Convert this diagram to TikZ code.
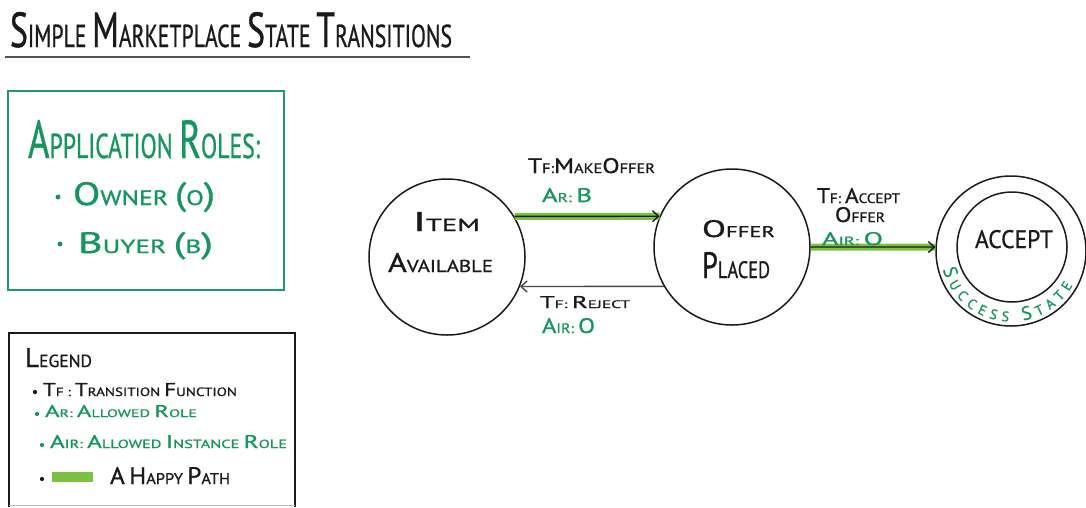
\documentclass[tikz,border=0pt]{standalone}
\usepackage{fontspec}
\setmainfont{PT Sans}[FakeBold=0.9]
\usepackage{graphicx}
\usetikzlibrary{arrows.meta,decorations.text,calc}
\definecolor{ink}{HTML}{1A1A1A}
\definecolor{rolegreen}{HTML}{17955E}
\definecolor{boxgreen}{HTML}{1E9A6A}
\definecolor{happygreen}{HTML}{7CC142}
% first letter of a word, set larger (hand-lettered small caps)
\newcommand\BG[1]{\scalebox{1.55}{#1}}
% text squeezed to a given width and cap height
\newcommand\fitt[3]{\resizebox{#1pt}{#2pt}{#3}}

\begin{document}
\begin{tikzpicture}[x=1pt,y=1pt,
  lbl/.style={anchor=base west, inner sep=0pt, outer sep=0pt, text=ink},
  glbl/.style={lbl, text=rolegreen},
  stnode/.style={circle, draw=ink, line width=1.5pt, inner sep=0pt, minimum size=#1},
  dot/.style={circle, fill=#1, inner sep=0pt, minimum size=4.2pt},
  arr/.style={draw=ink, line width=1.4pt, -{Straight Barb[length=6pt,width=11pt,line width=1.4pt]}},
  happy/.style={arr, preaction={draw=happygreen, line width=7pt, -}},
]
\useasboundingbox (0,0) rectangle (1086,-507);

% title
\node[lbl] (title) at (10,-47) {\fitt{442}{35}{\BG{S}IMPLE \BG{M}ARKETPLACE \BG{S}TATE \BG{T}RANSITIONS}};
\draw[ink!75, line width=2pt] (5,-57) -- (470,-57);

% application roles
\draw[boxgreen, line width=2.2pt] (8,-91) rectangle (284,-290);
\node[glbl] (roles) at (28,-158) {\fitt{232}{38}{\BG{A}PPLICATION \BG{R}OLES:}};
\node[dot=rolegreen, minimum size=5pt] (b1) at (58,-197) {};
\node[glbl] (owner) at (73,-205) {\fitt{142}{23}{\BG{O}WNER \BG{(}O\BG{)}}};
\node[dot=rolegreen, minimum size=5pt] (b2) at (60,-244) {};
\node[glbl] (buyer) at (78,-253) {\fitt{135}{21}{\BG{B}UYER \BG{(}B\BG{)}}};

% legend
\draw[ink, line width=2.2pt] (9,-507) -- (9,-333) -- (295,-333) -- (295,-507);
\draw[ink!30, line width=1pt] (9,-505) -- (295,-505);
\node[lbl] (legend) at (25,-367) {\fitt{67}{19}{\BG{L}EGEND}};
\node[dot=ink] (l1) at (35,-392) {};
\node[lbl] (tf) at (43,-396) {\fitt{194}{13}{\BG{T}F : \BG{T}RANSITION \BG{F}UNCTION}};
\node[dot=rolegreen] (l2) at (37,-414) {};
\node[glbl] (ar) at (45,-417) {\fitt{152}{12}{\BG{A}R: \BG{A}LLOWED \BG{R}OLE}};
\node[dot=rolegreen] (l3) at (42,-445) {};
\node[glbl] (air) at (50,-448) {\fitt{237}{13}{\BG{A}IR: \BG{A}LLOWED \BG{I}NSTANCE \BG{R}OLE}};
\node[dot=ink] (l4) at (42,-479) {};
\fill[happygreen] (52,-472) rectangle (93,-482);
\node[lbl] (hp) at (110,-484) {\fitt{120}{17}{\BG{A} \BG{H}APPY \BG{P}ATH}};

% states
\node[stnode=156pt] (item) at (447,-257) {};
\node[stnode=156pt] (offer) at (732,-247) {};
\node[stnode=150pt] (accept) at (1011,-251) {};
\node[stnode=110pt] (acceptin) at (1012,-247) {};

\node[lbl] (t1) at (413,-231) {\fitt{67}{19}{\BG{I}TEM}};
\node[lbl] (t2) at (388,-272) {\fitt{105}{19}{\BG{A}VAILABLE}};
\node[lbl] (t3) at (702,-237) {\fitt{73}{17}{\BG{O}FFER}};
\node[lbl] (t4) at (702,-278) {\fitt{68}{26}{\BG{P}LACED}};
\node[lbl] (t5) at (975,-248) {\fitt{78}{18}{ACCEPT}};

\path[decorate, decoration={text along path, text align={fit to path},
  text={|\color{rolegreen}\fontsize{19}{19}\selectfont|S|\color{rolegreen}\fontsize{14}{14}\selectfont|UCCESS |\color{rolegreen}\fontsize{19}{19}\selectfont|S|\color{rolegreen}\fontsize{14}{14}\selectfont|TATE}}]
  ($(accept.center)+(195:70.5)$) arc[start angle=195, end angle=331, radius=70.5];

% transitions
\draw[happy] (item.31.3) -- (offer.157.4);
\draw[arr, draw=ink!80] (offer.210) -- (item.-22.1);
\draw[happy] (offer.east) -- (accept.177.7);

% transition labels
\node[lbl] (m1) at (528,-173) {\fitt{127}{15}{\BG{T}F:\BG{M}AKE\BG{O}FFER}};
\node[glbl] (m2) at (542,-202) {\fitt{50}{14}{\BG{A}R: \BG{B}}};
\node[lbl] (r1) at (540,-308) {\fitt{90}{12}{\BG{T}F: \BG{R}EJECT}};
\node[glbl] (r2) at (542,-333) {\fitt{53}{15}{\BG{A}IR: \BG{O}}};
\node[lbl] (a1) at (817,-203) {\fitt{83}{15}{\BG{T}F: \BG{A}CCEPT}};
\node[lbl] (a2) at (835,-222) {\fitt{50}{15}{\BG{O}FFER}};
\node[glbl] (a3) at (822,-245) {\fitt{61}{13}{\BG{A}IR: \BG{O}}};
\end{tikzpicture}
\end{document}
